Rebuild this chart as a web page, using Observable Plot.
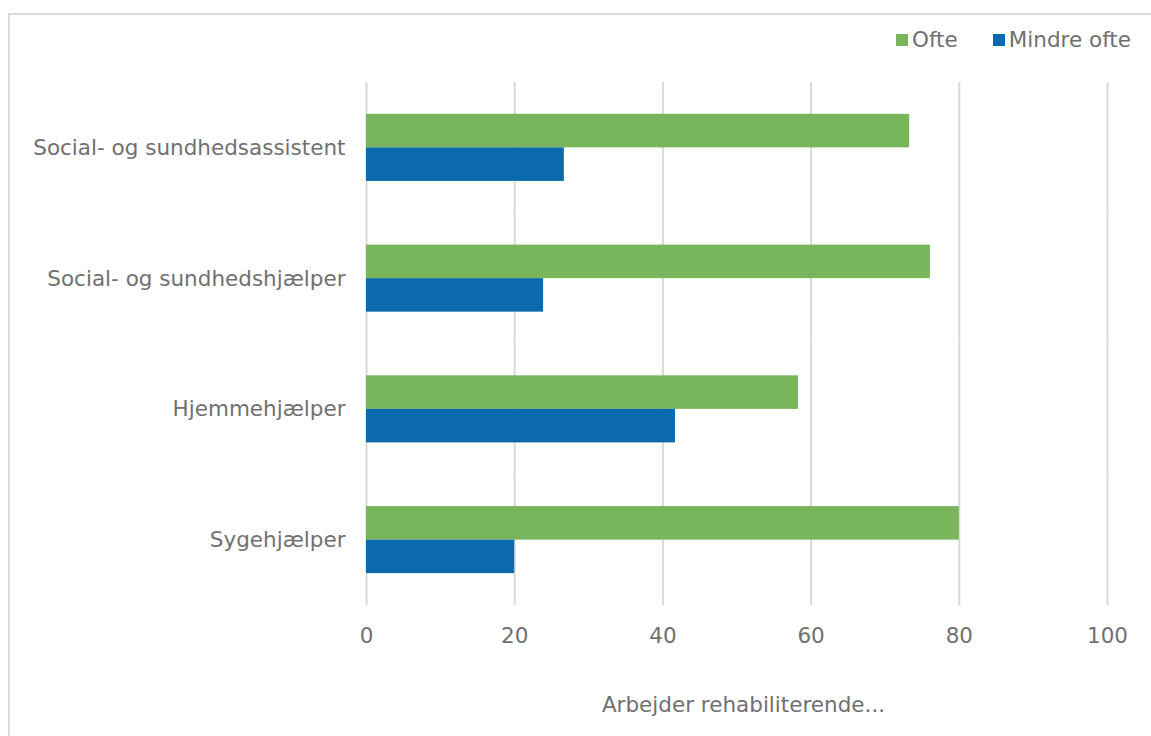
<!DOCTYPE html>
<html>
<head>
<meta charset="utf-8">
<script src="https://cdn.jsdelivr.net/npm/d3@7"></script>
<script src="https://cdn.jsdelivr.net/npm/@observablehq/plot@0.6"></script>
<style>
  html, body { margin: 0; padding: 0; background: #fff; }
  body { width: 1151px; height: 736px; overflow: hidden; position: relative; font-family: "DejaVu Sans", Verdana, sans-serif; }
  #frame { position: absolute; left: 8px; top: 13px; width: 1160px; height: 760px; border: 2px solid #dcdcdc; box-sizing: border-box; }
  #chart { position: absolute; left: 0; top: 0; }
  #legend { position: absolute; left: 896px; top: 27px; display: flex; align-items: center; font-size: 21.5px; color: #707070; white-space: nowrap; }
  #legend .item { display: flex; align-items: center; margin-right: 35px; }
  #legend .sw { width: 12px; height: 12px; margin-right: 4px; }
  #xtitle { position: absolute; left: 366px; width: 741px; top: 692px; text-align: center; font-size: 21.5px; color: #707070; padding-left: 14px; box-sizing: border-box; }
</style>
</head>
<body>
<div id="frame"></div>
<div id="chart"></div>
<div id="legend"></div>
<div id="xtitle"></div>
<script>
const categories = ["Social- og sundhedsassistent", "Social- og sundhedshjælper", "Hjemmehjælper", "Sygehjælper"];
const seriesNames = ["Ofte", "Mindre ofte"];
const ofte = [73.3, 76.1, 58.3, 80.0];
const mindreOfte = [26.7, 23.9, 41.7, 20.0];
const seriesColors = ["#79b65b", "#0c69ae"];
const xTicks = [0, 20, 40, 60, 80, 100];
const xTitle = "Arbejder rehabiliterende...";

const rows = [];
categories.forEach((c, i) => {
  rows.push({category: c, series: seriesNames[0], value: ofte[i]});
  rows.push({category: c, series: seriesNames[1], value: mindreOfte[i]});
});

const chart = Plot.plot({
  width: 1151,
  height: 736,
  marginTop: 82,
  marginBottom: 131,
  marginLeft: 366,
  marginRight: 44,
  style: {fontFamily: "'DejaVu Sans', Verdana, sans-serif", fontSize: "21.5px", color: "#707070", background: "transparent"},
  x: {domain: [0, 100], ticks: xTicks, tickSize: 0, tickPadding: 22, label: null, tickFormat: d => String(d)},
  y: {domain: seriesNames, axis: null, paddingInner: 0, paddingOuter: 0.95, round: false},
  fy: {domain: categories, padding: 0, round: false, label: null, tickSize: 0, tickPadding: 21, axis: "left"},
  color: {domain: seriesNames, range: seriesColors},
  marks: [
    Plot.ruleX(xTicks, {stroke: "#d9d9d9", strokeWidth: 2}),
    Plot.barX(rows, {fy: "category", y: "series", x: "value", fill: "series"})
  ]
});
document.getElementById("chart").appendChild(chart);

const legend = document.getElementById("legend");
seriesNames.forEach((s, i) => {
  const item = document.createElement("div");
  item.className = "item";
  const sw = document.createElement("div");
  sw.className = "sw";
  sw.style.background = seriesColors[i];
  const t = document.createElement("span");
  t.textContent = s;
  item.appendChild(sw);
  item.appendChild(t);
  legend.appendChild(item);
});
document.getElementById("xtitle").textContent = xTitle;
</script>
</body>
</html>
